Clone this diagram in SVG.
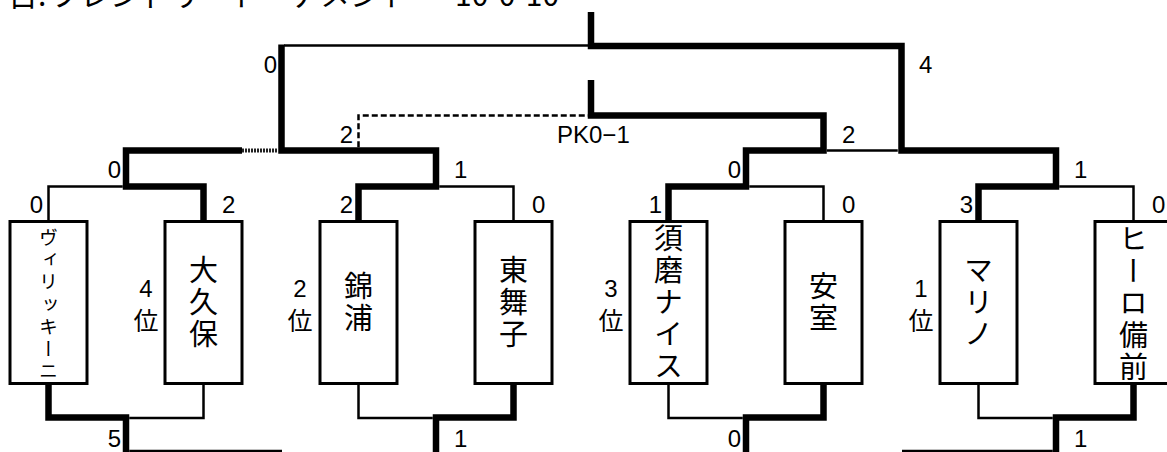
<svg xmlns="http://www.w3.org/2000/svg" width="1167" height="452" viewBox="0 0 1167 452">
<style>
.thick{fill:none;stroke:#000;stroke-width:6.5;stroke-linejoin:miter}
.thin{fill:none;stroke:#000;stroke-width:2.5}
.dash{fill:none;stroke:#000;stroke-width:2.5;stroke-dasharray:6 3}
.dot{fill:none;stroke:#222;stroke-width:4;stroke-dasharray:2 1}
.box{fill:#fff;stroke:#000;stroke-width:3}
.lbl{font-family:"Liberation Sans","Noto Sans CJK JP",sans-serif;font-size:24px;fill:#000}
.end{text-anchor:end}
.mid{text-anchor:middle}
.rank{font-family:"Noto Sans CJK JP",sans-serif;font-size:25px;text-anchor:middle;dominant-baseline:central}
.name{font-family:"Noto Sans CJK JP",sans-serif;font-size:29px;letter-spacing:3px;writing-mode:vertical-rl;text-anchor:middle;fill:#000}
.small{font-size:19px;letter-spacing:3.3px}
.title{font-family:"Noto Sans CJK JP",sans-serif;font-size:30px;fill:#000}
</style>
<rect width="1167" height="452" fill="#fff"/>
<text class="title" y="6"><tspan x="8">日:</tspan><tspan x="50">フレンドリートーナメント</tspan><tspan x="455">10-0-10</tspan></text>
<g id="connectors">
<path class="thin" d="M48.5,221 V186.5 H122.75"/>
<path class="thin" d="M513.5,221 V186.5 H439.25"/>
<path class="thin" d="M823.5,221 V186.5 H749.25"/>
<path class="thin" d="M1133.5,221 V186.5 H1059.25"/>
<path class="thin" d="M284,45.5 H591"/>
<path class="thin" d="M826.75,150.5 H897.75"/>
<path class="dash" d="M358.5,147.25 V115.5 H588"/>
<path class="dot" d="M242,150.5 H278"/>
<path class="thick" d="M203.5,221 V186.5 H126 V150.5 H242"/>
<path class="thick" d="M358.5,221 V186.5 H436 V150.5 H281.5 V44.5"/>
<path class="thick" d="M668.5,221 V186.5 H746 V150.5 H823.5 V115.5 H591 V80"/>
<path class="thick" d="M978.5,221 V186.5 H1056 V150.5 H901.5 V46 H591 V12"/>
<path class="thin" d="M203.5,384 V418 H129.25"/>
<path class="thin" d="M358.5,384 V418 H432.75"/>
<path class="thin" d="M668.5,384 V418 H742.75"/>
<path class="thin" d="M978.5,384 V418 H1052.75"/>
<path class="thin" d="M129.25,451 H282"/>
<path class="thin" d="M902,451 H1052.75"/>
<path class="thick" d="M48.5,384 V417.5 H126 V460"/>
<path class="thick" d="M513.5,384 V417.5 H436 V460"/>
<path class="thick" d="M823.5,384 V417.5 H746 V460"/>
<path class="thick" d="M1133.5,384 V417.5 H1056 V460"/>
</g>
<g id="team1"><rect class="box" x="10" y="221.5" width="77" height="162"/><text class="name small" x="48.5" y="306">ヴィリッキーニ</text></g>
<g id="team2"><rect class="box" x="165" y="221.5" width="77" height="162"/><text class="name" x="203.5" y="303.5">大久保</text></g>
<g id="team3"><rect class="box" x="320" y="221.5" width="77" height="162"/><text class="name" x="358.5" y="303.5">錦浦</text></g>
<g id="team4"><rect class="box" x="475" y="221.5" width="77" height="162"/><text class="name" x="513.5" y="303.5">東舞子</text></g>
<g id="team5"><rect class="box" x="630" y="221.5" width="77" height="162"/><text class="name" x="668.5" y="303.5">須磨ナイス</text></g>
<g id="team6"><rect class="box" x="785" y="221.5" width="77" height="162"/><text class="name" x="823.5" y="303.5">安室</text></g>
<g id="team7"><rect class="box" x="940" y="221.5" width="77" height="162"/><text class="name" x="978.5" y="303.5">マリノ</text></g>
<g id="team8"><rect class="box" x="1095" y="221.5" width="77" height="162"/><text class="name" x="1133.5" y="304">ヒーロ備前</text></g>
<g id="scores">
<text class="lbl end" x="277" y="73">0</text>
<text class="lbl" x="919" y="73">4</text>
<text class="lbl end" x="353" y="143">2</text>
<text class="lbl" x="842" y="143">2</text>
<text class="lbl" x="557" y="143">PK0−1</text>
<text class="lbl end" x="121" y="178">0</text>
<text class="lbl" x="454" y="178">1</text>
<text class="lbl end" x="741" y="178">0</text>
<text class="lbl" x="1074" y="178">1</text>
<text class="lbl end" x="43" y="213">0</text>
<text class="lbl" x="222" y="213">2</text>
<text class="lbl end" x="353" y="213">2</text>
<text class="lbl" x="532" y="213">0</text>
<text class="lbl end" x="662" y="213">1</text>
<text class="lbl" x="842" y="213">0</text>
<text class="lbl end" x="973" y="213">3</text>
<text class="lbl" x="1152" y="213">0</text>
<text class="lbl end" x="121" y="447">5</text>
<text class="lbl" x="454" y="447">1</text>
<text class="lbl end" x="741" y="447">0</text>
<text class="lbl" x="1074" y="447">1</text>
</g>
<g id="ranks">
<text class="lbl mid" x="146" y="297">4</text><text class="rank" x="146" y="319">位</text>
<text class="lbl mid" x="300" y="297">2</text><text class="rank" x="300" y="319">位</text>
<text class="lbl mid" x="611" y="297">3</text><text class="rank" x="611" y="319">位</text>
<text class="lbl mid" x="921" y="297">1</text><text class="rank" x="921" y="319">位</text>
</g>
</svg>
